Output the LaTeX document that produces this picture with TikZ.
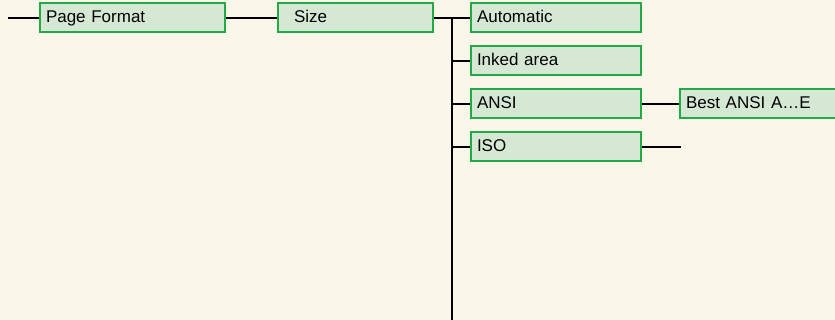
\documentclass[tikz,border=0pt]{standalone}
\usepackage{fontspec}
\setmainfont{Liberation Sans}
\definecolor{bgcol}{HTML}{FBF6EA}
\definecolor{boxfill}{HTML}{D5E8D4}
\definecolor{boxdraw}{HTML}{22AA44}
\begin{document}
\begin{tikzpicture}[x=1pt,y=-1pt,
  menubox/.style={draw=boxdraw,fill=boxfill,line width=2pt,minimum height=29pt,
    inner xsep=6pt,inner ysep=0pt,align=left,anchor=west,
    text height=12.5pt,text depth=3.5pt,
    font=\fontsize{17}{20}\selectfont},
  conn/.style={line width=2pt,black}]
\useasboundingbox (0,0) rectangle (835,320);
\fill[bgcol] (0,0) rectangle (835,320);
\clip (0,0) rectangle (835,320);
\node[menubox,text width=173pt] (pf) at (39,18) {Page Format};
\node[menubox,text width=143pt] (size) at (277,18) {\hspace*{10pt}Size};
\node[menubox,text width=158pt] (auto) at (470,18) {Automatic};
\node[menubox,text width=158pt] (inked) at (470,61) {Inked area};
\node[menubox,text width=158pt] (ansi) at (470,104) {ANSI};
\node[menubox,text width=158pt] (iso) at (470,147) {ISO};
\node[menubox,text width=158pt] (best) at (679,104) {Best ANSI A…E};
\coordinate (start) at (8,18);
\coordinate (isoend) at (681,147);
\coordinate (vtop) at (452,18);
\coordinate (vbot) at (452,322);
\draw[conn] (start) -- (pf.west);
\draw[conn] (pf.east) -- (size.west);
\draw[conn] (size.east) -- (auto.west);
\draw[conn] (vtop) -- (vbot);
\draw[conn] (vtop |- inked.west) -- (inked.west);
\draw[conn] (vtop |- ansi.west) -- (ansi.west);
\draw[conn] (vtop |- iso.west) -- (iso.west);
\draw[conn] (ansi.east) -- (best.west);
\draw[conn] (iso.east) -- (isoend);
\end{tikzpicture}
\end{document}
